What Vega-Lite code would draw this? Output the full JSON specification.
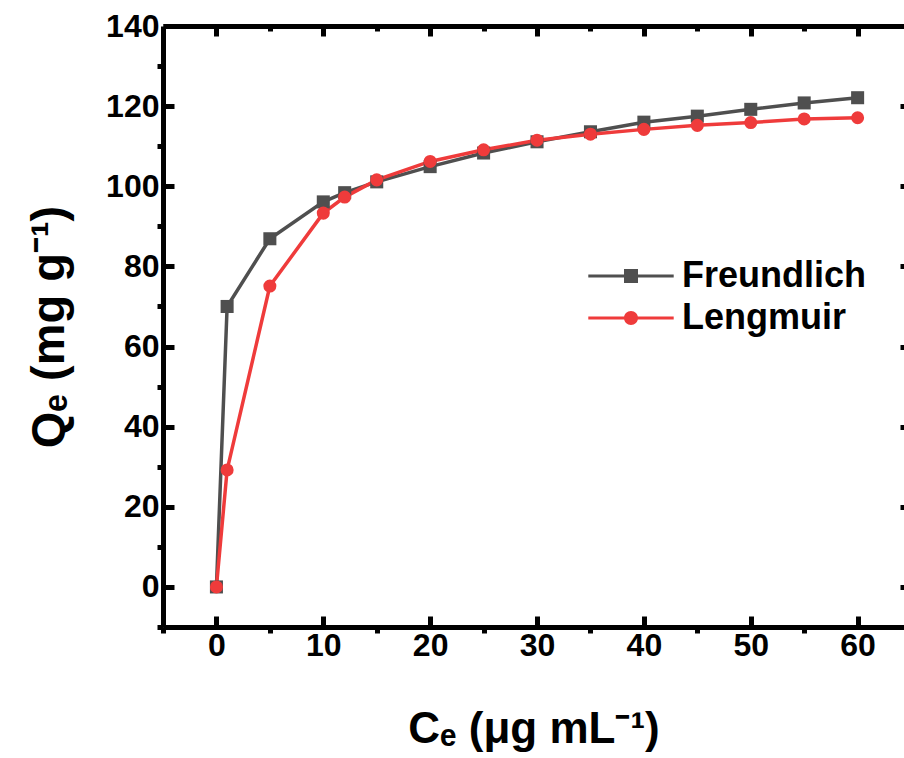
{
  "$schema": "https://vega.github.io/schema/vega-lite/v6.json",
  "width": 741,
  "height": 601,
  "autosize": "none",
  "padding": {"left": 163, "top": 26, "right": 0, "bottom": 131},
  "background": "white",
  "config": {
    "view": {"stroke": null},
    "font": "Liberation Sans",
    "axis": {
      "grid": false,
      "domainColor": "black",
      "domainWidth": 5,
      "tickColor": "black",
      "tickWidth": 5,
      "labelColor": "black",
      "labelFont": "Liberation Sans",
      "labelFontWeight": "bold",
      "labelFontSize": 32,
      "titleColor": "black",
      "titleFont": "Liberation Sans",
      "titleFontWeight": "bold",
      "titleFontSize": 44
    },
    "legend": {
      "title": null,
      "orient": "none",
      "legendX": 450,
      "legendY": 232,
      "padding": 0,
      "symbolSize": 196,
      "symbolOpacity": 1,
      "symbolStrokeWidth": 0,
      "labelFont": "Liberation Sans",
      "labelFontSize": 36,
      "labelFontWeight": "bold",
      "labelColor": "black",
      "labelOffset": 33,
      "labelLimit": 0,
      "rowPadding": 6
    }
  },
  "data": {
    "values": [
      {"x": 0, "y": 0, "series": "Freundlich"},
      {"x": 1, "y": 70, "series": "Freundlich"},
      {"x": 5, "y": 86.9, "series": "Freundlich"},
      {"x": 10, "y": 96.1, "series": "Freundlich"},
      {"x": 12, "y": 98.4, "series": "Freundlich"},
      {"x": 15, "y": 101.1, "series": "Freundlich"},
      {"x": 20, "y": 104.9, "series": "Freundlich"},
      {"x": 25, "y": 108.3, "series": "Freundlich"},
      {"x": 30, "y": 111.1, "series": "Freundlich"},
      {"x": 35, "y": 113.6, "series": "Freundlich"},
      {"x": 40, "y": 116.0, "series": "Freundlich"},
      {"x": 45, "y": 117.5, "series": "Freundlich"},
      {"x": 50, "y": 119.2, "series": "Freundlich"},
      {"x": 55, "y": 120.8, "series": "Freundlich"},
      {"x": 60, "y": 122.1, "series": "Freundlich"},
      {"x": 0, "y": 0, "series": "Lengmuir"},
      {"x": 1, "y": 29.2, "series": "Lengmuir"},
      {"x": 5, "y": 75.1, "series": "Lengmuir"},
      {"x": 10, "y": 93.3, "series": "Lengmuir"},
      {"x": 12, "y": 97.3, "series": "Lengmuir"},
      {"x": 15, "y": 101.6, "series": "Lengmuir"},
      {"x": 20, "y": 106.2, "series": "Lengmuir"},
      {"x": 25, "y": 109.1, "series": "Lengmuir"},
      {"x": 30, "y": 111.5, "series": "Lengmuir"},
      {"x": 35, "y": 113.0, "series": "Lengmuir"},
      {"x": 40, "y": 114.2, "series": "Lengmuir"},
      {"x": 45, "y": 115.2, "series": "Lengmuir"},
      {"x": 50, "y": 115.9, "series": "Lengmuir"},
      {"x": 55, "y": 116.8, "series": "Lengmuir"},
      {"x": 60, "y": 117.1, "series": "Lengmuir"}
    ]
  },
  "resolve": {
    "axis": {"x": "independent", "y": "independent"},
    "scale": {"color": "independent", "shape": "independent"}
  },
  "layer": [
    {
      "mark": {"type": "line", "strokeWidth": 3.5},
      "encoding": {
        "x": {
          "field": "x", "type": "quantitative",
          "scale": {"domain": [-5, 64.34], "nice": false, "zero": false},
          "axis": {
            "orient": "bottom",
            "values": [0, 10, 20, 30, 40, 50, 60],
            "tickSize": -11,
            "labelPadding": 14,
            "title": "Cₑ (μg mL⁻¹)",
            "titlePadding": 46
          }
        },
        "y": {
          "field": "y", "type": "quantitative",
          "scale": {"domain": [-10, 140], "nice": false, "zero": false},
          "axis": {
            "orient": "left",
            "values": [0, 20, 40, 60, 80, 100, 120, 140],
            "tickSize": -11,
            "labelPadding": 15,
            "title": "Qₑ (mg g⁻¹)",
            "titleFontSize": 47,
            "titlePadding": 32
          }
        },
        "color": {
          "field": "series", "type": "nominal",
          "scale": {"domain": ["Freundlich", "Lengmuir"], "range": ["#4f4f4f", "#ef3b3b"]},
          "legend": null
        },
        "detail": {"field": "series"}
      }
    },
    {
      "mark": {"type": "point", "filled": true, "opacity": 1, "size": 170},
      "encoding": {
        "x": {
          "field": "x", "type": "quantitative",
          "axis": {
            "orient": "bottom",
            "values": [-5, 5, 15, 25, 35, 45, 55],
            "tickSize": 6,
            "domain": false,
            "labels": false,
            "title": null
          }
        },
        "y": {
          "field": "y", "type": "quantitative",
          "axis": {
            "orient": "left",
            "values": [-10, 10, 30, 50, 70, 90, 110, 130],
            "tickSize": 6,
            "domain": false,
            "labels": false,
            "title": null
          }
        },
        "color": {
          "field": "series", "type": "nominal",
          "scale": {"domain": ["Freundlich", "Lengmuir"], "range": ["#4f4f4f", "#ef3b3b"]},
          "legend": null
        },
        "shape": {
          "field": "series", "type": "nominal",
          "scale": {"domain": ["Freundlich", "Lengmuir"], "range": ["square", "circle"]},
          "legend": null
        }
      }
    },
    {
      "mark": {"type": "point", "opacity": 0},
      "encoding": {
        "x": {
          "field": "x", "type": "quantitative",
          "axis": {
            "orient": "top",
            "values": [0, 10, 20, 30, 40, 50, 60],
            "tickSize": -10,
            "labels": false,
            "title": null
          }
        },
        "y": {
          "field": "y", "type": "quantitative",
          "axis": {
            "orient": "right",
            "offset": 7,
            "values": [0, 20, 40, 60, 80, 100, 120, 140],
            "tickSize": -11,
            "labels": false,
            "title": null
          }
        }
      }
    },
    {
      "mark": {"type": "point", "opacity": 0},
      "encoding": {
        "x": {
          "field": "x", "type": "quantitative",
          "axis": {
            "orient": "top",
            "values": [5, 15, 25, 35, 45, 55],
            "tickSize": -5,
            "domain": false,
            "labels": false,
            "title": null
          }
        },
        "y": {"field": "y", "type": "quantitative", "axis": null}
      }
    },
    {
      "mark": {"type": "point", "filled": true, "opacity": 0, "size": 196},
      "encoding": {
        "x": {"field": "x", "type": "quantitative", "axis": null},
        "y": {"field": "y", "type": "quantitative", "axis": null},
        "color": {
          "field": "series", "type": "nominal",
          "scale": {"domain": ["Freundlich", "Lengmuir"], "range": ["#4f4f4f", "#ef3b3b"]}
        },
        "shape": {
          "field": "series", "type": "nominal",
          "scale": {
            "domain": ["Freundlich", "Lengmuir"],
            "range": [
              "M-6.1,-0.2H6.1V0.2H-6.1Z M-1,-1H1V1H-1Z",
              "M-6.1,-0.2H6.1V0.2H-6.1Z M-1,0A1,1,0,1,1,1,0A1,1,0,1,1,-1,0Z"
            ]
          }
        }
      }
    }
  ]
}
